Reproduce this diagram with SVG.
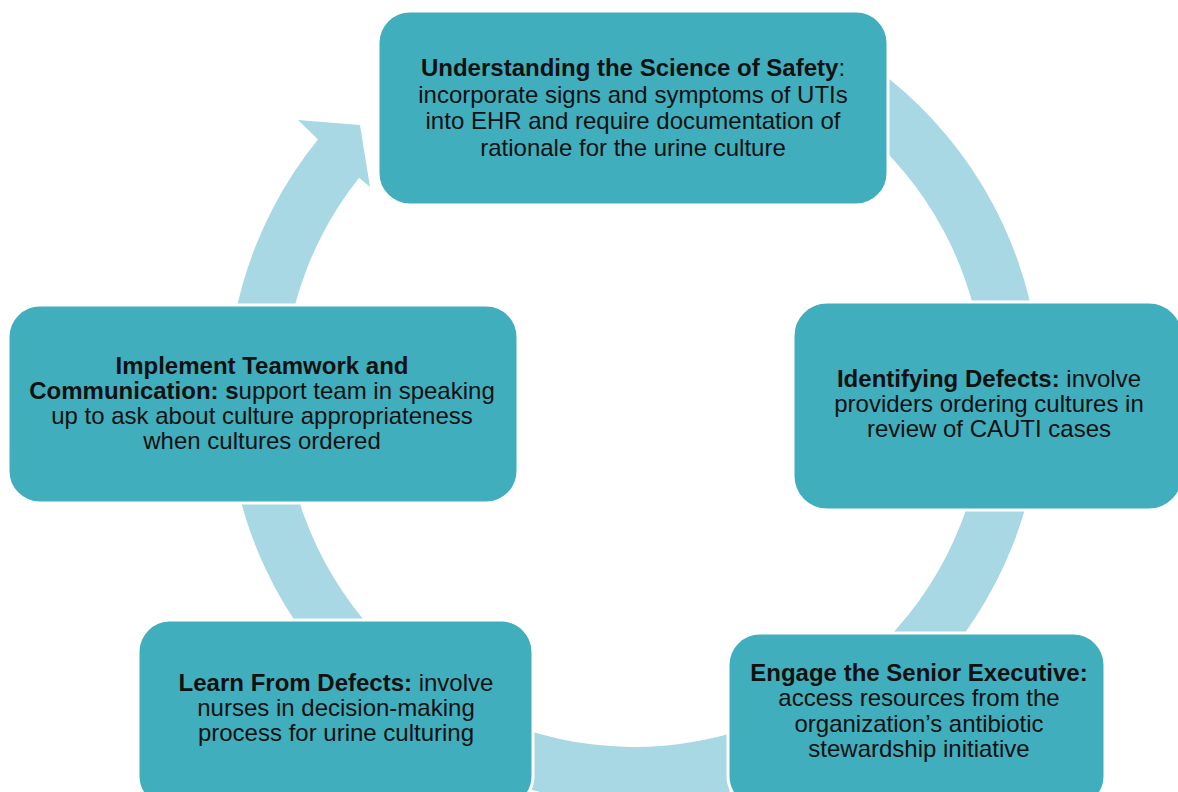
<svg xmlns="http://www.w3.org/2000/svg" width="1178" height="792" viewBox="0 0 1178 792">
<style>
.box{fill:#40AEBD;stroke:#FFFFFF;stroke-width:3}
.ring{fill:#A7D8E4}
text{font-family:"Liberation Sans",Arial,sans-serif;font-size:24px;fill:#111111;text-anchor:middle}
.b{font-weight:bold}
</style>
<rect width="1178" height="792" fill="#FFFFFF"/>
<g id="connectors">
<path class="ring" d="M837.5,43.5 A407,407 0 1 1 318,139.5 L298,120 L360,125 L370,187 L359.1,177.7 A351,351 0 1 0 809.5,92 Z"/>
</g>
<g id="node-science">
<rect class="box" x="378" y="11" width="510" height="194" rx="32"/>
<text x="633" y="76"><tspan class="b">Understanding the Science of Safety</tspan>:</text>
<text x="633" y="103">incorporate signs and symptoms of UTIs</text>
<text x="633" y="129">into EHR and require documentation of</text>
<text x="633" y="156">rationale for the urine culture</text>
</g>
<g id="node-identifying">
<rect class="box" x="793" y="302" width="390" height="208" rx="34"/>
<text x="989" y="387"><tspan class="b">Identifying Defects:</tspan> involve</text>
<text x="989" y="412">providers ordering cultures in</text>
<text x="989" y="437">review of CAUTI cases</text>
</g>
<g id="node-engage">
<rect class="box" x="728" y="633" width="377" height="175" rx="32"/>
<text x="919" y="681" class="b">Engage the Senior Executive:</text>
<text x="919" y="706">access resources from the</text>
<text x="919" y="732">organization’s antibiotic</text>
<text x="919" y="757">stewardship initiative</text>
</g>
<g id="node-learn">
<rect class="box" x="138" y="620" width="395" height="188" rx="32"/>
<text x="336" y="691"><tspan class="b">Learn From Defects:</tspan> involve</text>
<text x="336" y="716">nurses in decision-making</text>
<text x="336" y="741">process for urine culturing</text>
</g>
<g id="node-teamwork">
<rect class="box" x="8" y="305" width="510" height="198" rx="32"/>
<text x="262" y="374" class="b">Implement Teamwork and</text>
<text x="262" y="399"><tspan class="b">Communication: s</tspan>upport team in speaking</text>
<text x="262" y="424">up to ask about culture appropriateness</text>
<text x="262" y="449">when cultures ordered</text>
</g>
</svg>
